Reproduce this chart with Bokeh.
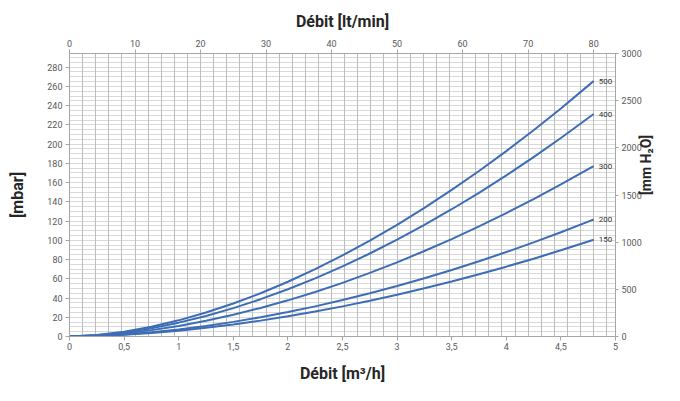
import math
from bokeh.plotting import figure
from bokeh.models import LinearAxis, Range1d, FixedTicker, ColumnDataSource, Grid
from bokeh.core.properties import value
from bokeh.embed import file_html
from bokeh.resources import INLINE

# ---- data ----
flow_m3h = [0, 0.25, 0.5, 0.75, 1, 1.25, 1.5, 1.75, 2, 2.25, 2.5, 2.75, 3,
            3.25, 3.5, 3.75, 4, 4.25, 4.5, 4.75, 4.8]
curve_names = ["500", "400", "300", "200", "150"]
dp_500 = [0, 1.47, 4.96, 10.1, 16.8, 24.9, 34.3, 45.0, 56.9, 70.0, 84.3, 99.7, 116.1,
          133.7, 152.4, 172.0, 192.7, 214.4, 237.1, 260.8, 265.6]
dp_400 = [0, 1.24, 4.22, 8.65, 14.4, 21.4, 29.5, 38.8, 49.1, 60.5, 72.9, 86.3, 100.7,
          116.0, 132.3, 149.4, 167.5, 186.5, 206.4, 227.1, 231.3]
dp_300 = [0, 0.95, 3.23, 6.63, 11.0, 16.4, 22.6, 29.7, 37.6, 46.3, 55.8, 66.1, 77.1,
          88.9, 101.3, 114.5, 128.3, 142.8, 158.1, 173.9, 177.2]
dp_200 = [0, 0.61, 2.12, 4.39, 7.34, 10.9, 15.2, 20.0, 25.4, 31.3, 37.9, 44.9, 52.5,
          60.5, 69.1, 78.2, 87.8, 97.8, 108.4, 119.4, 121.6]
dp_150 = [0, 0.51, 1.76, 3.63, 6.07, 9.05, 12.5, 16.5, 21.0, 25.9, 31.3, 37.1, 43.4,
          50.1, 57.2, 64.7, 72.6, 80.9, 89.6, 98.7, 100.6]

mbar_ticks = [0, 20, 40, 60, 80, 100, 120, 140, 160, 180, 200, 220, 240, 260, 280]
mmh2o_ticks = [0, 500, 1000, 1500, 2000, 2500, 3000]
ltmin_ticks = [0, 10, 20, 30, 40, 50, 60, 70, 80]
m3h_ticks = [0, 0.5, 1, 1.5, 2, 2.5, 3, 3.5, 4, 4.5, 5]
m3h_tick_labels = ["0", "0,5", "1", "1,5", "2", "2,5", "3", "3,5", "4", "4,5", "5"]

MBAR_PER_MMH2O = 0.0980665
MM_MAX = 3000
M3H_MAX = 5

LINE_COLOR = "#3d6db5"
TICK_COLOR = "#595959"
AXIS_COLOR = "#a6a6a6"
TITLE_COLOR = "#262626"

p = figure(width=664, height=385,
           x_range=Range1d(0, M3H_MAX),
           y_range=Range1d(0, MM_MAX * MBAR_PER_MMH2O),
           x_axis_type=None, y_axis_type=None,
           output_backend="svg", toolbar_location=None,
           min_border_left=69, min_border_right=44,
           min_border_top=53, min_border_bottom=49)
p.extra_x_ranges = {"lt": Range1d(0, M3H_MAX * 1000 / 60)}
p.extra_y_ranges = {"mm": Range1d(0, MM_MAX)}

p.outline_line_color = AXIS_COLOR
p.background_fill_color = "white"
p.border_fill_color = "white"

# grids: vertical every 2 lt/min, horizontal every 5 mbar
xgrid = Grid(dimension=0, ticker=FixedTicker(ticks=[i * 2 * 60 / 1000 for i in range(42)]),
             grid_line_color="#bdbdbd")
ygrid = Grid(dimension=1, ticker=FixedTicker(ticks=[i * 5 for i in range(59)]),
             grid_line_color="#d9d9d9")
p.add_layout(ygrid)
p.add_layout(xgrid)

bottom_axis = LinearAxis(ticker=FixedTicker(ticks=m3h_ticks), axis_label="Débit [m³/h]")
bottom_axis.major_label_overrides = {t: s for t, s in zip(m3h_ticks, m3h_tick_labels)}
left_axis = LinearAxis(ticker=FixedTicker(ticks=mbar_ticks), axis_label="[mbar]")
top_axis = LinearAxis(x_range_name="lt", ticker=FixedTicker(ticks=ltmin_ticks),
                      axis_label="Débit [lt/min]")
right_axis = LinearAxis(y_range_name="mm", ticker=FixedTicker(ticks=mmh2o_ticks),
                        axis_label="[mm H₂O]")
p.add_layout(bottom_axis, "below")
p.add_layout(left_axis, "left")
p.add_layout(top_axis, "above")
p.add_layout(right_axis, "right")

for ax in (bottom_axis, left_axis, top_axis, right_axis):
    ax.axis_line_color = AXIS_COLOR
    ax.major_tick_line_color = AXIS_COLOR
    ax.minor_tick_line_color = None
    ax.major_tick_in = 0
    ax.major_tick_out = 4
    ax.major_label_text_font = "Roboto"
    ax.major_label_text_font_size = "9px"
    ax.major_label_text_color = TICK_COLOR
    ax.axis_label_text_font = "Roboto"
    ax.axis_label_text_font_style = "bold"
    ax.axis_label_text_font_size = "16px"
    ax.axis_label_text_color = TITLE_COLOR

top_axis.major_label_standoff = 3
top_axis.axis_label_standoff = 6
bottom_axis.major_label_standoff = 2
bottom_axis.axis_label_standoff = 11
left_axis.major_label_standoff = 3
left_axis.axis_label_standoff = 17
right_axis.major_tick_out = 3
right_axis.major_label_standoff = 3
right_axis.axis_label_standoff = 1
right_axis.axis_label_text_font_size = "14px"
right_axis.axis_label_orientation = math.pi / 2

series = [dp_500, dp_400, dp_300, dp_200, dp_150]
for s in series:
    p.line(flow_m3h, s, line_color=LINE_COLOR, line_width=2)

lab_src = ColumnDataSource(dict(x=[flow_m3h[-1]] * len(series),
                                y=[s[-1] for s in series],
                                t=curve_names))
p.text(x="x", y="y", text="t", source=lab_src, x_offset=5,
       text_baseline="middle", text_align="left",
       text_font=value("Roboto"), text_font_size="8px", text_color="#333333")

open("out.html", "w").write(file_html(p, INLINE))
